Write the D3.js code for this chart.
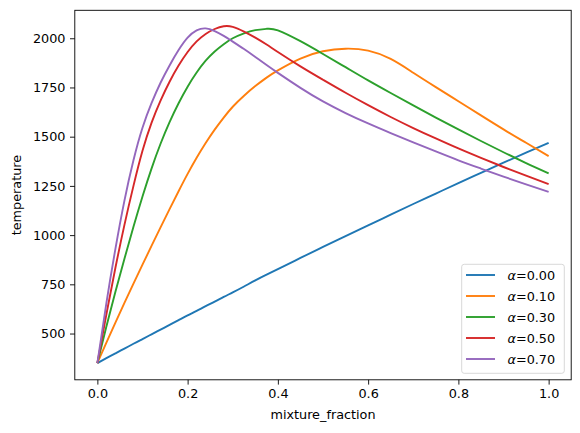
<!DOCTYPE html>
<meta charset="utf-8">
<style>
  body { margin: 0; background: #fff; }
  text { font-family: "DejaVu Sans", sans-serif; fill: #000; }
  .tick text { font-size: 12.8px; }
  .axis path, .tick line { stroke: #000; stroke-width: 0.9; }
</style>
<svg width="580" height="433"></svg>
<script src="https://cdn.jsdelivr.net/npm/d3@7"></script>
<script>
  // mixture fraction samples (shared by every curve)
  var mixtureFraction = [0, 0.02, 0.04, 0.06, 0.08, 0.10, 0.12, 0.14, 0.16, 0.18, 0.20, 0.22, 0.24, 0.26, 0.28, 0.30,
    0.325, 0.35, 0.375, 0.40, 0.45, 0.50, 0.55, 0.60, 0.65, 0.70, 0.75, 0.80, 0.85, 0.90, 0.95, 1.0];

  var alphaLabels = ["0.00", "0.10", "0.30", "0.50", "0.70"];
  var colors = ["#1f77b4", "#ff7f0e", "#2ca02c", "#d62728", "#9467bd"];

  var tAlpha000 = [350, 375, 399, 423, 448, 472, 496, 520, 544, 568, 592, 615, 639, 662, 686, 709,
    739, 770, 799, 827, 884, 940, 995, 1049, 1104, 1158, 1211, 1264, 1316, 1368, 1419, 1469];
  var tAlpha010 = [350, 454, 556, 656, 754, 850, 945, 1039, 1132, 1223, 1311, 1393, 1468, 1536, 1597, 1652,
    1708, 1757, 1800, 1837, 1897, 1934, 1947, 1937, 1895, 1825, 1752, 1680, 1608, 1537, 1469, 1401];
  var tAlpha030 = [350, 536, 712, 880, 1042, 1196, 1338, 1464, 1574, 1670, 1754, 1826, 1886, 1933, 1970, 2000,
    2025, 2041, 2048, 2040, 1985, 1920, 1853, 1786, 1722, 1659, 1597, 1537, 1478, 1421, 1366, 1314];
  var tAlpha050 = [350, 598, 834, 1052, 1250, 1428, 1570, 1683, 1779, 1861, 1930, 1984, 2022, 2047, 2061, 2058,
    2034, 2003, 1968, 1930, 1857, 1789, 1723, 1660, 1600, 1544, 1491, 1440, 1392, 1346, 1302, 1259];
  var tAlpha070 = [350, 655, 930, 1175, 1380, 1545, 1670, 1774, 1862, 1940, 2003, 2040, 2050, 2036, 2012, 1983,
    1945, 1905, 1864, 1824, 1748, 1679, 1620, 1567, 1518, 1471, 1425, 1380, 1338, 1297, 1258, 1220];

  var series = [tAlpha000, tAlpha010, tAlpha030, tAlpha050, tAlpha070];

  var xTicks = [0, 0.2, 0.4, 0.6, 0.8, 1.0];
  var yTicks = [500, 750, 1000, 1250, 1500, 1750, 2000];

  var svg = d3.select("svg");
  var plotLeft = 74.8, plotRight = 571.2, plotTop = 10.3, plotBottom = 379.8;

  var x = d3.scaleLinear().domain([-0.05, 1.05]).range([plotLeft, plotRight]);
  var y = d3.scaleLinear().domain([265, 2142]).range([plotBottom, plotTop]);

  var line = d3.line()
    .x(function (d, i) { return x(mixtureFraction[i]); })
    .y(function (d) { return y(d); })
    .curve(d3.curveNatural);

  svg.append("g").selectAll("path")
    .data(series)
    .enter().append("path")
    .attr("d", line)
    .attr("fill", "none")
    .attr("stroke", function (d, i) { return colors[i]; })
    .attr("stroke-width", 1.9);

  // axes
  var xAxis = svg.append("g").attr("class", "axis")
    .attr("transform", "translate(0," + plotBottom + ")")
    .call(d3.axisBottom(x).tickValues(xTicks).tickFormat(d3.format(".1f")).tickSizeInner(4.8).tickSizeOuter(0).tickPadding(4.5));
  xAxis.select(".domain").remove();

  var yAxis = svg.append("g").attr("class", "axis")
    .attr("transform", "translate(" + plotLeft + ",0)")
    .call(d3.axisLeft(y).tickValues(yTicks).tickFormat(d3.format("d")).tickSizeInner(4.8).tickSizeOuter(0).tickPadding(4.5));
  yAxis.select(".domain").remove();
  svg.selectAll(".tick text").attr("fill", "#000");

  // frame
  svg.append("rect")
    .attr("x", plotLeft).attr("y", plotTop)
    .attr("width", plotRight - plotLeft).attr("height", plotBottom - plotTop)
    .attr("fill", "none").attr("stroke", "#000").attr("stroke-width", 0.9);

  svg.append("text")
    .attr("x", (plotLeft + plotRight) / 2).attr("y", 418.5)
    .attr("text-anchor", "middle")
    .style("font-size", "12.8px")
    .text("mixture_fraction");

  svg.append("text")
    .attr("transform", "translate(21.3," + (plotTop + plotBottom) / 2 + ") rotate(-90)")
    .attr("text-anchor", "middle")
    .style("font-size", "12.8px")
    .text("temperature");

  // legend
  var legend = svg.append("g");
  legend.append("rect")
    .attr("x", 461.7).attr("y", 264.3)
    .attr("width", 102.6).attr("height", 109)
    .attr("rx", 2.5)
    .attr("fill", "#fff").attr("fill-opacity", 0.8)
    .attr("stroke", "#d4d4d4").attr("stroke-width", 0.9);

  var item = legend.selectAll("g.item")
    .data(alphaLabels)
    .enter().append("g")
    .attr("class", "item")
    .attr("transform", function (d, i) { return "translate(0," + (275 + i * 21) + ")"; });

  item.append("line")
    .attr("x1", 466).attr("x2", 495)
    .attr("stroke", function (d, i) { return colors[i]; })
    .attr("stroke-width", 1.9);

  var label = item.append("text")
    .attr("x", 507.5).attr("y", 4.6)
    .style("font-size", "12.8px");
  label.append("tspan").style("font-style", "italic").text("α");
  label.append("tspan").text(function (d) { return "=" + d; });
</script>
